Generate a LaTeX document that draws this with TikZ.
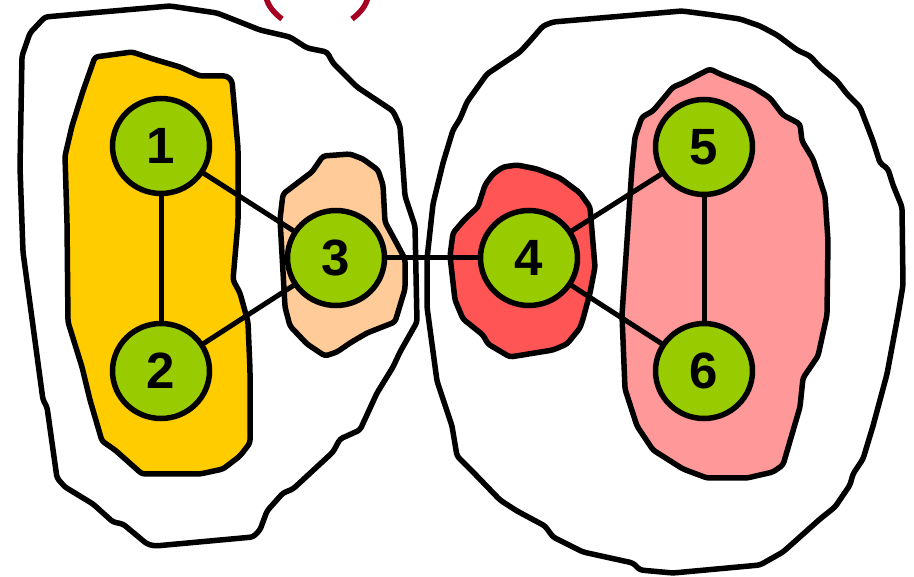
\documentclass[tikz,border=0pt]{standalone}
\usepackage{fontspec}
\setmainfont{Liberation Sans}
\usetikzlibrary{shapes.geometric}
\definecolor{vgreen}{HTML}{99CC00}
\definecolor{vyellow}{HTML}{FFCC00}
\definecolor{vpeach}{HTML}{FFCC99}
\definecolor{vred}{HTML}{FF5555}
\definecolor{vpink}{HTML}{FF9999}
\definecolor{vdark}{HTML}{A50021}
\pgfdeclarelayer{blobs}
\pgfdeclarelayer{edges}
\pgfsetlayers{blobs,edges,main}
\tikzset{
  vertex/.style={ellipse,draw=black,line width=5.5pt,fill=vgreen,minimum width=97pt,minimum height=95pt,inner sep=0pt,font=\fontsize{51}{51}\selectfont\bfseries},
  blob/.style={draw=black,line width=5.5pt,rounded corners=3pt,line join=round},
  link/.style={draw=black,line width=5pt},
  paren/.style={draw=vdark,line width=5.5pt}
}
\begin{document}
\begin{tikzpicture}[x=1pt,y=-1pt]
\useasboundingbox (0,0) rectangle (914,577);
\begin{pgfonlayer}{blobs}
% left outer
\path[blob] (45,17) -- (170,6) -- (217,13) -- (250,26) -- (260,30) -- (290,37) -- (307,48) -- (327,52) -- (333,63) -- (357,87) -- (393,111) -- (400,126) -- (405,196) -- (415,226) -- (417,322) -- (400,352) -- (393,367) -- (377,393) -- (360,430) -- (340,439) -- (333,452) -- (293,489) -- (283,493) -- (267,511) -- (260,530) -- (253,537) -- (155,546) -- (147,544) -- (123,524) -- (113,522) -- (93,504) -- (65,487) -- (57,478) -- (47,407) -- (43,400) -- (23,252) -- (20,167) -- (22,56) -- (30,33) -- cycle;
% yellow
\path[blob,fill=vyellow] (95,57) -- (132,52) -- (153,59) -- (180,67) -- (200,76) -- (227,76) -- (232,81) -- (238,148) -- (238,222) -- (233,280) -- (240,293) -- (248,322) -- (250,370) -- (250,443) -- (240,456) -- (223,469) -- (200,474) -- (142,474) -- (115,450) -- (102,441) -- (90,400) -- (82,367) -- (68,322) -- (67,222) -- (65,156) -- (72,126) -- (83,91) -- cycle;
% peach
\path[blob,fill=vpeach] (323,156) -- (350,154) -- (363,159) -- (378,170) -- (383,185) -- (385,222) -- (397,244) -- (405,259) -- (405,289) -- (395,322) -- (367,333) -- (350,343) -- (337,352) -- (325,356) -- (307,344) -- (290,326) -- (285,307) -- (280,219) -- (283,194) -- (300,181) -- (312,172) -- cycle;
% right outer
\path[blob] (553,22) -- (682,11) -- (713,15) -- (740,19) -- (760,26) -- (777,35) -- (797,50) -- (810,56) -- (820,67) -- (837,81) -- (847,94) -- (860,107) -- (873,141) -- (880,163) -- (888,169) -- (893,185) -- (902,207) -- (903,285) -- (898,315) -- (887,374) -- (873,426) -- (863,459) -- (853,474) -- (850,485) -- (835,507) -- (820,519) -- (783,552) -- (760,565) -- (673,573) -- (640,570) -- (633,563) -- (583,552) -- (553,537) -- (545,526) -- (517,511) -- (500,500) -- (473,472) -- (457,456) -- (452,426) -- (437,381) -- (427,307) -- (427,259) -- (433,204) -- (443,163) -- (453,130) -- (460,119) -- (467,102) -- (487,74) -- (520,52) -- (530,41) -- (543,26) -- cycle;
% red
\path[blob,fill=vred] (503,167) -- (517,165) -- (537,169) -- (560,178) -- (580,193) -- (590,207) -- (595,267) -- (590,293) -- (583,319) -- (580,328) -- (567,344) -- (553,350) -- (510,357) -- (488,344) -- (483,335) -- (463,319) -- (455,300) -- (450,256) -- (453,233) -- (465,219) -- (478,207) -- (485,185) -- (493,174) -- cycle;
% pink
\path[blob,fill=vpink] (710,69) -- (720,74) -- (753,87) -- (770,98) -- (783,115) -- (800,124) -- (802,141) -- (813,159) -- (825,196) -- (828,241) -- (827,315) -- (818,356) -- (803,378) -- (800,407) -- (783,465) -- (773,472) -- (747,478) -- (707,478) -- (683,469) -- (653,450) -- (637,426) -- (625,389) -- (622,315) -- (627,241) -- (632,167) -- (635,137) -- (642,117) -- (653,111) -- (673,87) -- (683,83) -- (700,74) -- cycle;
% partial parentheses at the top
\draw[paren] (266,-3) .. controls (268,6) and (274,13) .. (282,19);
\draw[paren] (368,-3) .. controls (366,6) and (360,13) .. (352,19);
\end{pgfonlayer}
\node[vertex] (n1) at (161,146) {1};
\node[vertex] (n2) at (161,371) {2};
\node[vertex] (n3) at (336,258) {3};
\node[vertex] (n4) at (529,258) {4};
\node[vertex] (n5) at (704,147) {5};
\node[vertex] (n6) at (704,371) {6};
\begin{pgfonlayer}{edges}
\draw[link] (n1.center) -- (n2.center);
\draw[link] (n1.center) -- (n3.center);
\draw[link] (n2.center) -- (n3.center);
\draw[link] (n3.center) -- (n4.center);
\draw[link] (n4.center) -- (n5.center);
\draw[link] (n4.center) -- (n6.center);
\draw[link] (n5.center) -- (n6.center);
\end{pgfonlayer}
\end{tikzpicture}
\end{document}
